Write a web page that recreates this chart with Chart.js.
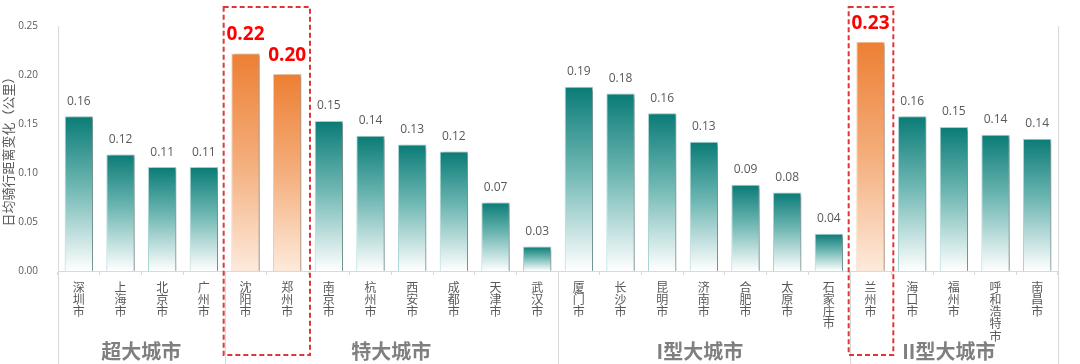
<!DOCTYPE html>
<html>
<head>
<meta charset="utf-8">
<script src="https://cdn.jsdelivr.net/npm/chart.js@4"></script>
<style>
  html, body { margin: 0; padding: 0; background: #fff; }
  #wrap { width: 1080px; height: 364px; }
</style>
</head>
<body>
<div id="wrap"><canvas id="chart" width="1080" height="364"></canvas></div>
<script>
// city order as in the picture
const cities = ["深圳市", "上海市", "北京市", "广州市", "沈阳市", "郑州市", "南京市", "杭州市", "西安市", "成都市", "天津市", "武汉市",
    "厦门市", "长沙市", "昆明市", "济南市", "合肥市", "太原市", "石家庄市", "兰州市", "海口市", "福州市", "呼和浩特市", "南昌市"];
const distChange = [0.158, 0.119, 0.106, 0.106, 0.222, 0.201, 0.153, 0.138, 0.129, 0.122, 0.070, 0.025,
    0.188, 0.181, 0.161, 0.132, 0.088, 0.080, 0.038, 0.234, 0.158, 0.147, 0.139, 0.135];
const valueLabels = ["0.16", "0.12", "0.11", "0.11", "0.22", "0.20", "0.15", "0.14", "0.13", "0.12", "0.07", "0.03",
    "0.19", "0.18", "0.16", "0.13", "0.09", "0.08", "0.04", "0.23", "0.16", "0.15", "0.14", "0.14"];
const highlighted = [4, 5, 19];
const highlightBoxes = [[4, 5], [19, 19]];
const groupNames = ["超大城市", "特大城市", "I型大城市", "II型大城市"];
const groupBreaks = [0, 4, 12, 19, 24];
const yTicks = [0, 0.05, 0.10, 0.15, 0.20, 0.25];

const colors = {
    tealTop: "#0a7b76",
    tealMid: "#6db6b2",
    tealEdge: "#a9d6d3",
    orangeTop: "#ed7f33",
    orangeMid: "#f4ae7c",
    orangeEdge: "#f8c9a6",
    label: "#595959",
    red: "#ff0000",
    box: "#e0363a",
    line: "#d9d9d9",
    group: "#7f7f7f",
};

// small left nudges (px) for the group titles on the right half
const groupNudge = [0, 0, -4, -5];

function barGradient(ctx) {
    const chart = ctx.chart;
    if (!chart.chartArea || ctx.type !== "data") return colors.tealTop;
    const y = chart.scales.y;
    const top = y.getPixelForValue(ctx.parsed.y);
    const base = y.getPixelForValue(0);
    const g = chart.ctx.createLinearGradient(0, top, 0, base);
    if (highlighted.includes(ctx.dataIndex)) {
        g.addColorStop(0, colors.orangeTop);
        g.addColorStop(0.5, colors.orangeMid);
        g.addColorStop(1, "#fdeadc");
    } else {
        g.addColorStop(0, colors.tealTop);
        g.addColorStop(0.45, colors.tealMid);
        g.addColorStop(1, "#ffffff");
    }
    return g;
}

const decor = {
    id: "decor",
    beforeDatasetsDraw(chart) {
        const c = chart.ctx;
        c.save();
        c.shadowColor = "rgba(0,0,0,0.35)";
        c.shadowOffsetX = 3;
        c.shadowOffsetY = 1;
        c.shadowBlur = 3;
    },
    afterDatasetsDraw(chart) {
        const c = chart.ctx;
        c.restore();
        const x = chart.scales.x;
        const area = chart.chartArea;
        const step = x.getPixelForValue(1) - x.getPixelForValue(0);
        const edge = k => x.getPixelForValue(k) - step / 2;
        const meta = chart.getDatasetMeta(0);

        // value labels
        c.save();
        c.textAlign = "center";
        c.textBaseline = "bottom";
        meta.data.forEach((bar, i) => {
            if (highlighted.includes(i)) {
                c.font = "bold 19px 'Open Sans', 'Noto Sans CJK SC'";
                c.fillStyle = colors.red;
                c.fillText(valueLabels[i], bar.x, bar.y - 9);
            } else {
                c.font = "12px 'Open Sans', 'Noto Sans CJK SC'";
                c.fillStyle = colors.label;
                c.fillText(valueLabels[i], bar.x, bar.y - 9);
            }
        });
        c.restore();

        // group separators
        c.save();
        c.strokeStyle = colors.line;
        c.lineWidth = 1;
        groupBreaks.forEach((k, n) => {
            const px = Math.round(edge(k)) + 0.5;
            const outer = n === 0 || n === groupBreaks.length - 1;
            c.beginPath();
            c.moveTo(px, outer ? area.top : area.bottom);
            c.lineTo(px, chart.height);
            c.stroke();
        });
        c.restore();

        // group names
        c.save();
        c.font = "bold 20px 'Noto Sans CJK SC'";
        c.fillStyle = colors.group;
        c.textAlign = "center";
        c.textBaseline = "middle";
        groupNames.forEach((name, n) => {
            const mid = (edge(groupBreaks[n]) + edge(groupBreaks[n + 1])) / 2 + groupNudge[n];
            c.fillText(name, mid, 351);
        });
        c.restore();

        // dashed highlight boxes
        c.save();
        c.strokeStyle = colors.box;
        c.lineWidth = 2;
        c.setLineDash([5, 3]);
        highlightBoxes.forEach(([a, b]) => {
            const l = edge(a) - 1;
            const r = edge(b + 1) + 2;
            c.strokeRect(l, 7, r - l, 348);
        });
        c.restore();
    },
};

new Chart(document.getElementById("chart"), {
    type: "bar",
    data: {
        labels: cities.map(s => s.split("")),
        datasets: [{
            data: distChange,
            backgroundColor: barGradient,
            borderColor: cities.map((_, i) => highlighted.includes(i) ? colors.orangeEdge : colors.tealEdge),
            borderWidth: 1,
            barPercentage: 0.68,
            categoryPercentage: 1,
        }],
    },
    options: {
        responsive: false,
        animation: false,
        layout: { padding: { top: 26, right: 22, left: 0, bottom: 0 } },
        plugins: {
            legend: { display: false },
            tooltip: { enabled: false },
        },
        scales: {
            x: {
                afterFit: s => { s.height = 93; },
                border: { color: colors.line },
                grid: { display: true, drawOnChartArea: false, color: colors.line, tickLength: 4, offset: true },
                ticks: {
                    color: colors.label,
                    font: { family: "'Noto Sans CJK SC'", size: 12, lineHeight: 1.02 },
                    maxRotation: 0,
                    autoSkip: false,
                    padding: 6,
                },
            },
            y: {
                min: 0,
                max: 0.25,
                afterFit: s => { s.width = 58; },
                afterBuildTicks: s => { s.ticks = yTicks.map(v => ({ value: v })); },
                border: { display: false },
                grid: { display: false },
                ticks: {
                    color: colors.label,
                    font: { family: "'Open Sans'", size: 10 },
                    padding: 12,
                    callback: v => v.toFixed(2),
                },
                title: {
                    display: true,
                    text: "日均骑行距离变化（公里）",
                    color: colors.label,
                    font: { family: "'Noto Sans CJK SC'", size: 13 },
                    padding: { top: 0, bottom: 0 },
                },
            },
        },
    },
    plugins: [decor],
});
</script>
</body>
</html>
